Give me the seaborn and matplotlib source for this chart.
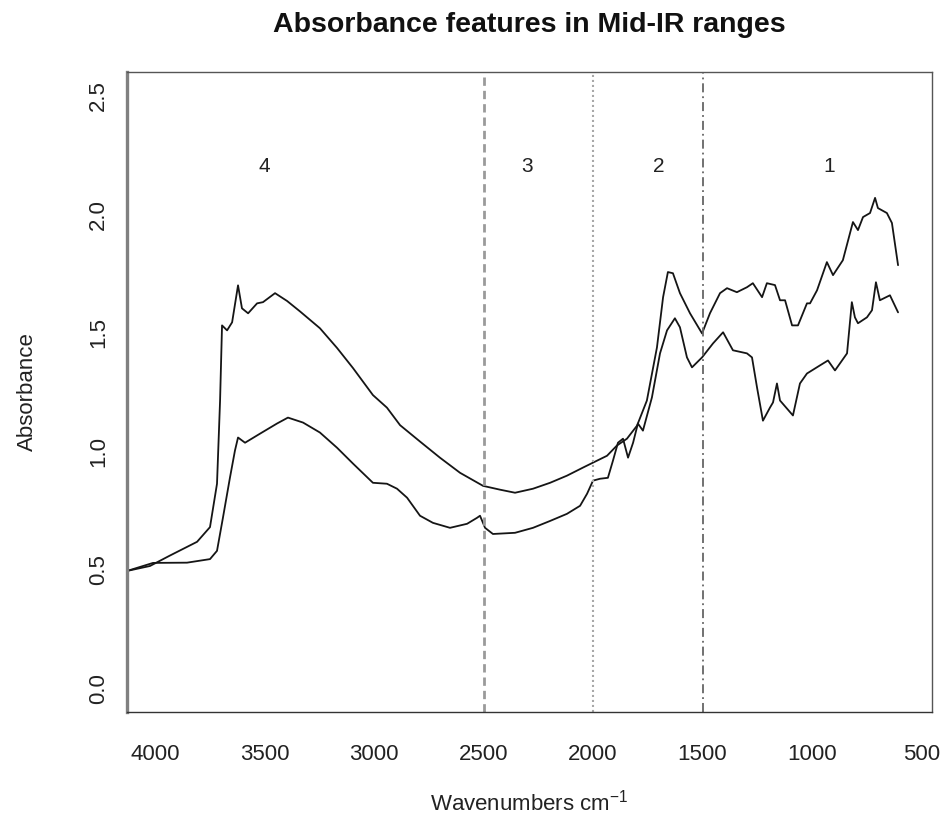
import matplotlib
matplotlib.use("Agg")
import matplotlib.pyplot as plt
import seaborn as sns
import pandas as pd

# Spectrum 1 (upper trace): wavenumber (cm-1) and absorbance
wn_upper = [4128, 4023, 3932, 3808, 3749, 3717, 3703, 3694, 3671, 3648, 3621, 3603,
            3575, 3534, 3507, 3452, 3397, 3338, 3247, 3169, 3096, 3005, 2941, 2881,
            2790, 2699, 2607, 2502, 2425, 2356, 2274, 2196, 2119, 2046, 2000, 1936,
            1891, 1845, 1799, 1754, 1708, 1680, 1658, 1635, 1603, 1557, 1502, 1466,
            1420, 1388, 1343, 1297, 1270, 1228, 1206, 1169, 1146, 1123, 1091, 1064,
            1023, 1009, 977, 932, 904, 859, 813, 790, 767, 735, 712, 699, 658, 635, 607]
abs_upper = [0.495, 0.516, 0.560, 0.618, 0.680, 0.863, 1.214, 1.531, 1.510, 1.544, 1.700, 1.603,
             1.582, 1.624, 1.629, 1.667, 1.634, 1.590, 1.519, 1.436, 1.351, 1.237, 1.184, 1.110,
             1.041, 0.973, 0.909, 0.854, 0.838, 0.825, 0.842, 0.867, 0.897, 0.931, 0.952, 0.981,
             1.024, 1.053, 1.108, 1.214, 1.438, 1.650, 1.756, 1.751, 1.667, 1.582, 1.497, 1.582,
             1.667, 1.688, 1.671, 1.692, 1.709, 1.650, 1.709, 1.701, 1.637, 1.637, 1.531, 1.531,
             1.624, 1.624, 1.679, 1.798, 1.743, 1.806, 1.967, 1.933, 1.988, 2.005, 2.069, 2.026,
             2.005, 1.963, 1.785]

# Spectrum 2 (lower trace)
wn_lower = [4128, 4009, 3854, 3749, 3717, 3690, 3658, 3635, 3621, 3589, 3521, 3443,
            3393, 3324, 3247, 3169, 3096, 3005, 2941, 2895, 2849, 2790, 2731, 2653,
            2575, 2530, 2516, 2493, 2457, 2356, 2274, 2196, 2119, 2059, 2027, 2000,
            1968, 1932, 1909, 1886, 1863, 1840, 1817, 1795, 1772, 1731, 1694, 1662,
            1626, 1603, 1571, 1548, 1502, 1452, 1406, 1361, 1297, 1274, 1251, 1224,
            1192, 1178, 1160, 1146, 1087, 1055, 1023, 964, 927, 895, 872, 840, 818,
            804, 790, 749, 726, 708, 690, 644, 607]
abs_lower = [0.495, 0.529, 0.530, 0.545, 0.580, 0.719, 0.888, 1.003, 1.058, 1.036, 1.074, 1.117,
             1.142, 1.121, 1.079, 1.015, 0.948, 0.867, 0.863, 0.842, 0.804, 0.728, 0.698, 0.677,
             0.694, 0.719, 0.728, 0.677, 0.651, 0.656, 0.677, 0.706, 0.736, 0.770, 0.821, 0.876,
             0.884, 0.888, 0.960, 1.036, 1.053, 0.973, 1.036, 1.117, 1.087, 1.227, 1.413, 1.510,
             1.561, 1.523, 1.396, 1.354, 1.396, 1.455, 1.502, 1.426, 1.413, 1.396, 1.269, 1.129,
             1.184, 1.206, 1.286, 1.214, 1.151, 1.286, 1.328, 1.362, 1.383, 1.341, 1.371, 1.413, 1.629,
             1.565, 1.540, 1.565, 1.595, 1.713, 1.637, 1.658, 1.586]

# Range boundaries and range numbers
boundaries = [2500, 2000, 1500]
region_labels = ["4", "3", "2", "1"]
region_label_x = [3500, 2300, 1700, 920]
region_label_y = 2.2

x_ticks = [4000, 3500, 3000, 2500, 2000, 1500, 1000, 500]
y_ticks = [0.0, 0.5, 1.0, 1.5, 2.0, 2.5]
y_tick_labels = ["0.0", "0.5", "1.0", "1.5", "2.0", "2.5"]

sns.set_theme(style="white")
plt.rcParams["font.family"] = ["Liberation Sans", "DejaVu Sans"]
plt.rcParams["mathtext.fontset"] = "custom"
plt.rcParams["mathtext.rm"] = "Liberation Sans"
plt.rcParams["mathtext.it"] = "Liberation Sans:italic"
plt.rcParams["mathtext.bf"] = "Liberation Sans:bold"

W, H = 942, 818
fig = plt.figure(figsize=(W / 100, H / 100), dpi=100)
ax = fig.add_axes([127 / W, 1 - 712 / H, (932 - 127) / W, (712 - 72) / H])

df_up = pd.DataFrame({"wn": wn_upper, "absorbance": abs_upper})
df_lo = pd.DataFrame({"wn": wn_lower, "absorbance": abs_lower})
for df in (df_up, df_lo):
    sns.lineplot(data=df, x="wn", y="absorbance", ax=ax, color="#151515",
                 lw=1.3, estimator=None, sort=False)

# Boundary lines between the spectral ranges
styles = [
    dict(color="#9a9a9a", lw=2.0, dashes=(3.0, 1.8)),
    dict(color="#a8a8a8", lw=1.5, dashes=(1.0, 1.4)),
    dict(color="#666666", lw=1.3, dashes=(5.0, 2.2, 1.0, 2.2)),
]
for xb, st in zip(boundaries, styles):
    ln = ax.axvline(xb, color=st["color"], lw=st["lw"])
    ln.set_dashes(st["dashes"])

for lab, xl in zip(region_labels, region_label_x):
    ax.text(xl, region_label_y, lab, ha="center", va="center", fontsize=15, color="#222222")

ax.set_xlim(4128, 452)
ax.set_ylim(-0.1, 2.6)
ax.set_xticks(x_ticks)
ax.set_xticklabels([str(t) for t in x_ticks], fontsize=16, color="#222222")
ax.set_yticks(y_ticks)
ax.set_yticklabels(y_tick_labels, fontsize=16, rotation=90, va="center", color="#222222")
ax.tick_params(axis="both", direction="out", length=11, width=1.0, color="#333333")
ax.tick_params(axis="x", pad=12)
ax.tick_params(axis="y", pad=2)

for side, sp in ax.spines.items():
    sp.set_visible(True)
    sp.set_color("#555555")
    sp.set_linewidth(1.0)
ax.spines["left"].set_color("#808080")
ax.spines["left"].set_linewidth(2.4)
ax.spines["bottom"].set_color("#333333")

ax.set_xlabel(r"Wavenumbers cm$^{-1}$", fontsize=16, color="#222222", va="center")
ax.set_ylabel("Absorbance", fontsize=16, color="#222222", va="center")
ax.xaxis.set_label_coords(0.5, (712 - 803) / 640)
ax.yaxis.set_label_coords((27 - 127) / 805, 0.5)

fig.text(529 / W, 1 - 25 / H, "Absorbance features in Mid-IR ranges",
         ha="center", va="center", fontsize=20.5, fontweight="bold", color="#111111")

fig.savefig("out.png", dpi=100, facecolor="white")
